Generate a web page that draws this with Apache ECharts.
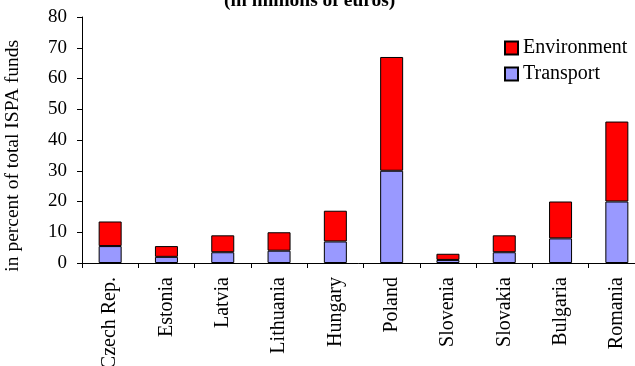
<!DOCTYPE html>
<html><head><meta charset="utf-8">
<script src="https://cdn.jsdelivr.net/npm/echarts@6/dist/echarts.min.js"></script>
<style>html,body{margin:0;padding:0;background:#fff;overflow:hidden}#c{width:635px;height:366px}</style>
</head><body><div id="c"></div>
<script>
const categories = ["Czech Rep.","Estonia","Latvia","Lithuania","Hungary","Poland","Slovenia","Slovakia","Bulgaria","Romania"];
const transport = [5.5, 2, 3.5, 4, 7, 30, 1, 3.5, 8, 20];
const environment = [8, 3.5, 5.5, 6, 10, 37, 2, 5.5, 12, 26];
const yTicks = [0,10,20,30,40,50,60,70,80];
const FONT = "Liberation Serif";
const chart = echarts.init(document.getElementById('c'), null, {renderer:'canvas'});
chart.setOption({
  animation:false,
  textStyle:{fontFamily:FONT},
  title:{text:"(in millions of euros)", left:219, top:-14, padding:5,
    textStyle:{fontFamily:FONT, fontSize:19.5, fontWeight:'bold', color:'#000'}},
  legend:{data:["Environment","Transport"], orient:'vertical', left:504, top:38, itemGap:6, padding:0,
    itemWidth:13, itemHeight:13, icon:'rect',
    textStyle:{fontFamily:FONT, fontSize:20, color:'#000'}},
  graphic:[{type:'text', left:3, top:40, rotation:Math.PI/2,
    style:{text:"in percent of total ISPA funds", font:"19.5px "+FONT, fill:'#000'}}],
  grid:{left:82, top:17, width:563, height:246, containLabel:false, outerBoundsMode:'none'},
  xAxis:{type:'category', data:categories,
    axisLine:{lineStyle:{color:'#000', width:1}},
    axisTick:{show:true, length:5, lineStyle:{color:'#000'}},
    axisLabel:{rotate:90, interval:0, fontFamily:FONT, fontSize:20, color:'#000', margin:14}},
  yAxis:{type:'value', min:0, max:80, interval:10,
    axisLine:{show:true, lineStyle:{color:'#000'}},
    axisTick:{show:true, length:5, lineStyle:{color:'#000'}},
    splitLine:{show:false},
    axisLabel:{fontFamily:FONT, fontSize:19, color:'#000', margin:15,
      formatter:v=>yTicks.includes(v)?String(v):''}},
  series:[
    {name:"Transport", type:'bar', stack:'a', data:transport, barWidth:23,
      itemStyle:{color:'#9999FF', borderColor:'#000', borderWidth:1}},
    {name:"Environment", type:'bar', stack:'a', data:environment, barWidth:23,
      itemStyle:{color:'#FF0000', borderColor:'#000', borderWidth:1}}
  ]
});
</script></body></html>
